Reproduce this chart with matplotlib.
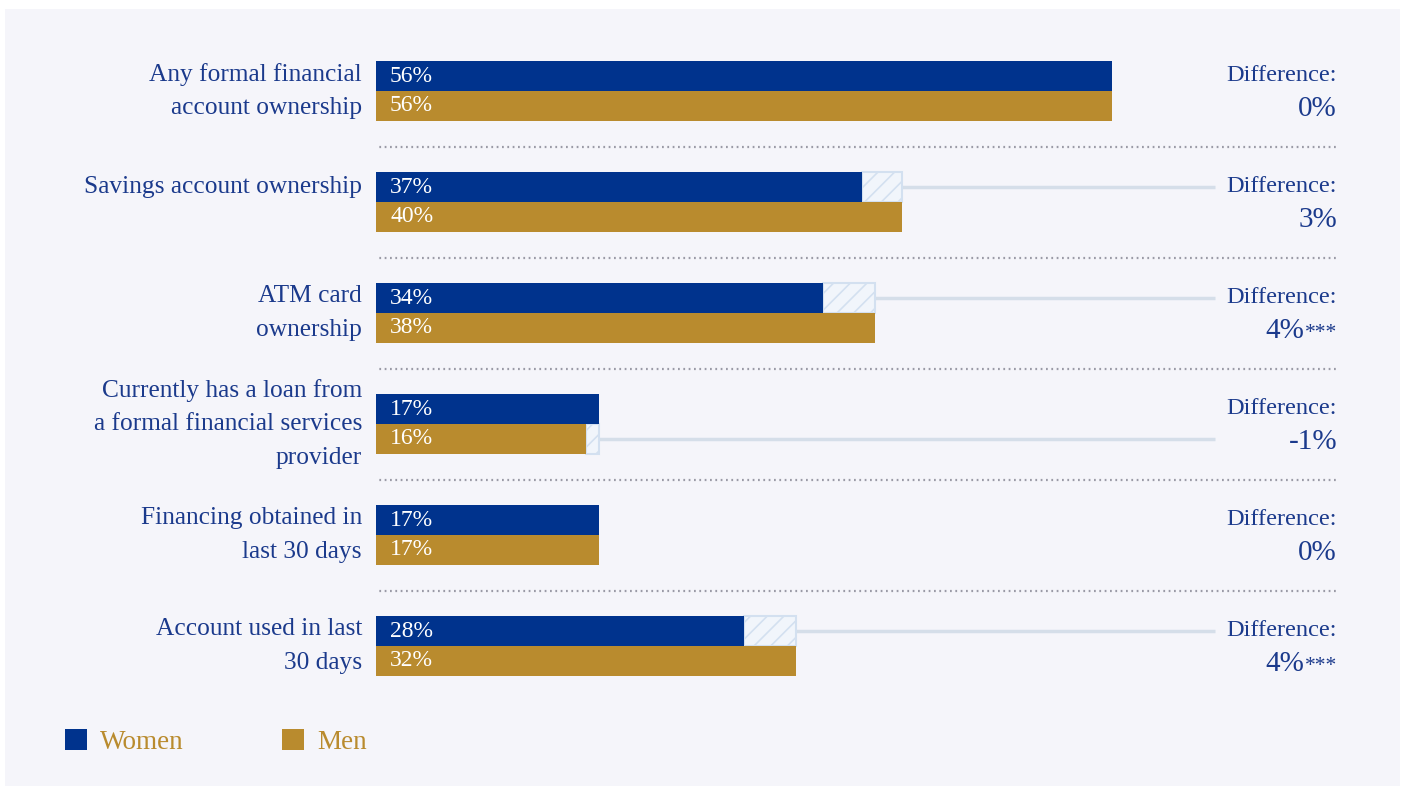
import matplotlib.pyplot as plt
from matplotlib.patches import Rectangle, Patch

categories = ["Any formal financial\naccount ownership",
              "Savings account ownership",
              "ATM card\nownership",
              "Currently has a loan from\na formal financial services\nprovider",
              "Financing obtained in\nlast 30 days",
              "Account used in last\n30 days"]
women = [56, 37, 34, 17, 17, 28]
men = [56, 40, 38, 16, 17, 32]
diffs = [0, 3, 4, -1, 0, 4]
stars = ["", "", "***", "", "", "***"]

NAVY = "#00338d"
GOLD = "#b98b2e"
TEXT = "#1b3a8c"
HATCH = "#d3e0f0"

W, H = 1405, 787
plt.rcParams['font.family'] = ['Liberation Serif', 'DejaVu Serif']
plt.rcParams['hatch.linewidth'] = 1.2
fig = plt.figure(figsize=(W / 100, H / 100), dpi=100, facecolor="white")

# light panel behind everything
fig.patches.append(Rectangle((5 / W, 1 - 786 / H), 1395 / W, 777 / H,
                             transform=fig.transFigure, facecolor="#f5f5fa",
                             edgecolor="none", zorder=-10))

px = 13.14  # pixels per percent
ax = fig.add_axes([376 / W, 1 - 786 / H, (1400 - 376) / W, 777 / H])
ax.set_facecolor("none")
xmax = (1400 - 376) / px
ax.set_xlim(0, xmax)
ax.set_ylim((786 - 91) / 111, (9 - 91) / 111)
ax.axis("off")

bh = 0.27
off = bh / 2
diff_x = (1337 - 376) / px
line_end = (1215 - 376) / px

renderer = fig.canvas.get_renderer()

for i, (cat, w, m) in enumerate(zip(categories, women, men)):
    ax.barh(i - off, w, height=bh, color=NAVY, zorder=3)
    ax.barh(i + off, m, height=bh, color=GOLD, zorder=3)
    ax.text(1.07, i - off, f"{w}%", color="white", fontsize=17, va="center", zorder=5)
    ax.text(1.07, i + off, f"{m}%", color="white", fontsize=17, va="center", zorder=5)

    if w != m:
        yy = i - off if m > w else i + off
        lo, hi = min(w, m), max(w, m)
        ax.plot([hi, line_end], [yy, yy], color="#d5dee9", lw=2.5, zorder=1,
                solid_capstyle="butt")
        ax.barh(yy, hi - lo, left=lo, height=bh, facecolor="#f1f5fb",
                edgecolor=HATCH, hatch="//", linewidth=1.5, zorder=2)

    ly = i - off if "\n" not in cat else i
    ax.text(-14 / px, ly, cat, ha="right", va="center", color=TEXT,
            fontsize=18.3, linespacing=1.68)

    ax.text(diff_x, i - 0.14, "Difference:", ha="right", va="center",
            color=TEXT, fontsize=17.6)

    # value with smaller significance stars
    vy = i + 0.225
    st = ax.text(diff_x, vy, stars[i], ha="right", va="baseline",
                 color=TEXT, fontsize=15.5)
    sw = st.get_window_extent(renderer).width * 72 / 100 if stars[i] else 0
    ax.annotate(f"{diffs[i]}%", xy=(diff_x, vy), xytext=(-sw, 0),
                textcoords="offset points", ha="right", va="baseline",
                color=TEXT, fontsize=21)

    if i < len(categories) - 1:
        ax.plot([-2 / px, diff_x], [i + 0.5, i + 0.5], color="#9a9aa6",
                lw=1.6, ls=(0, (0.8, 1.6)), zorder=1)

handles = [Patch(facecolor=NAVY), Patch(facecolor=GOLD)]
fig.legend(handles, ["Women", "Men"], loc="center left",
           bbox_to_anchor=(41 / W, 1 - 742 / H), ncol=2, frameon=False,
           handlelength=0.81, handleheight=0.81, handletextpad=0.48,
           columnspacing=3.62, labelcolor=GOLD, fontsize=19.5)

fig.savefig("out.png", dpi=100, facecolor="white")
